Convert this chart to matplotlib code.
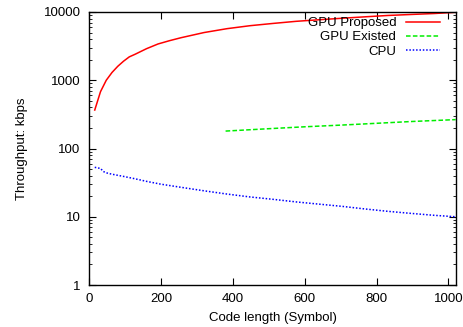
import numpy as np
import matplotlib.pyplot as plt
from matplotlib.ticker import LogLocator, FixedLocator, NullFormatter

plt.rcParams['font.family'] = ['Liberation Sans', 'DejaVu Sans']

# GPU Proposed
gp_x = [16, 32, 48, 64, 80, 96, 112, 128, 160, 192, 224, 256, 320, 384, 448,
        512, 576, 640, 704, 768, 832, 896, 960, 1020]
gp_y = [366, 680, 1000, 1300, 1600, 1900, 2200, 2400, 2900, 3400, 3800, 4200,
        5000, 5700, 6300, 6800, 7300, 7700, 8100, 8500, 8900, 9200, 9500, 9900]

# GPU Existed
ge_x = [380, 500, 600, 700, 800, 900, 1020]
ge_y = [180, 195, 208, 220, 234, 249, 265]

# CPU
cpu_x = [16, 32, 40, 48, 64, 96, 128, 160, 200, 256, 320, 384, 448, 512, 576,
         640, 704, 768, 832, 896, 960, 1020]
cpu_y = [53, 51, 46, 44, 42, 39, 36, 33, 30, 27, 24, 21.5, 19.5, 18, 16.5,
         15.3, 14.2, 13, 12, 11.2, 10.5, 10]

fig = plt.figure(figsize=(4.64, 3.27), dpi=100)
ax = fig.add_axes([89/464, 42/327, 367/464, 273/327])

ax.plot(gp_x, gp_y, color='#ff0000', lw=1.1, label='GPU Proposed')
ax.plot(ge_x, ge_y, color='#00ee00', lw=1.1, ls=(0, (3, 1.5)), label='GPU Existed')
ax.plot(cpu_x, cpu_y, color='#0000ff', lw=1.1, ls=(0, (1, 1.2)), label='CPU')

ax.set_yscale('log')
ax.set_xlim(0, 1021)
ax.set_ylim(1, 10000)
ax.xaxis.set_major_locator(FixedLocator([0, 200, 400, 600, 800, 1000]))
ax.set_yticks([1, 10, 100, 1000, 10000])
ax.set_yticklabels(['1', '10', '100', '1000', '10000'])
ax.yaxis.set_minor_locator(LogLocator(base=10, subs=np.arange(2, 10)))
ax.yaxis.set_minor_formatter(NullFormatter())

ax.tick_params(which='both', direction='in', top=True, right=True, labelsize=9.5)
ax.tick_params(which='major', length=5)
ax.tick_params(which='minor', length=2.5)
ax.tick_params(axis='x', pad=6)
ax.tick_params(axis='y', pad=6)
for s in ax.spines.values():
    s.set_linewidth(1)

ax.set_xlabel('Code length (Symbol)', fontsize=9.5, labelpad=5)
ax.set_ylabel('Throughput: kbps', fontsize=9.5, labelpad=11)

ax.legend(loc='upper right', frameon=False, markerfirst=False, fontsize=9.5,
          handlelength=2.6, handletextpad=0.7, labelspacing=0.15,
          borderaxespad=0, borderpad=0, bbox_to_anchor=(0.956, 0.982))

fig.savefig('out.png', dpi=100)
